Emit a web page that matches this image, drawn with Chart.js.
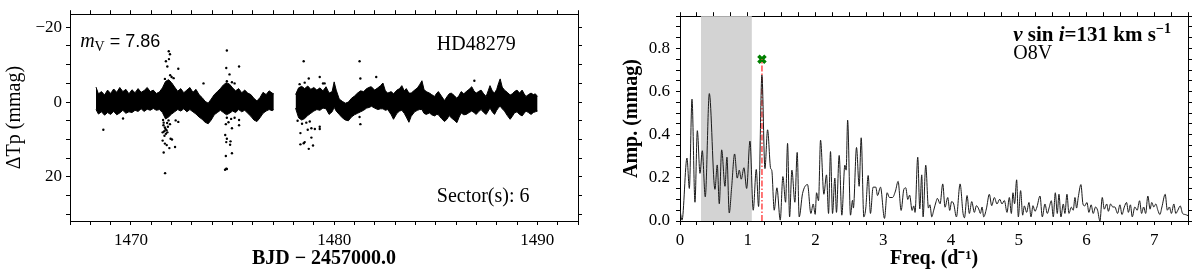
<!DOCTYPE html>
<html>
<head>
<meta charset="utf-8">
<script src="https://cdn.jsdelivr.net/npm/chart.js@4"></script>
<style>
  html, body { margin: 0; padding: 0; background: #fff; }
  #wrap { position: relative; width: 1200px; height: 276px; }
  .panel { position: absolute; top: 0; width: 600px; height: 276px; }
</style>
</head>
<body>
<div id="wrap">
  <div class="panel" style="left:0"><canvas id="lcChart"></canvas></div>
  <div class="panel" style="left:600px"><canvas id="ampChart"></canvas></div>
</div>
<script>
// Light curve: upper / lower edge of the dense band of points (mmag)
const lcTime = [
  1468.28, 1468.40, 1468.55, 1468.70, 1468.85, 1469.00, 1469.15, 1469.30, 1469.45, 1469.60,
  1469.75, 1469.90, 1470.05, 1470.20, 1470.35, 1470.50, 1470.65, 1470.80, 1470.95, 1471.10,
  1471.25, 1471.40, 1471.55, 1471.70, 1471.85, 1472.00, 1472.15, 1472.30, 1472.45, 1472.60,
  1472.75, 1472.90, 1473.05, 1473.20, 1473.35, 1473.50, 1473.65, 1473.80, 1473.95, 1474.10,
  1474.25, 1474.40, 1474.55, 1474.70, 1474.85, 1475.00, 1475.15, 1475.30, 1475.45, 1475.60,
  1475.75, 1475.90, 1476.05, 1476.20, 1476.35, 1476.50, 1476.65, 1476.80, 1476.95, 1477.03,
  1478.10, 1478.25, 1478.40, 1478.55, 1478.70, 1478.85, 1479.00, 1479.15, 1479.30, 1479.45,
  1479.60, 1479.75, 1479.90, 1480.00, 1480.10, 1480.25, 1480.40, 1480.55, 1480.70, 1480.85,
  1481.00, 1481.15, 1481.30, 1481.45, 1481.60,
  1481.75, 1481.83, 1481.99, 1482.15, 1482.28, 1482.40, 1482.52, 1482.64, 1482.81, 1482.92,
  1483.09, 1483.22, 1483.33, 1483.45, 1483.55, 1483.68, 1483.79, 1483.96, 1484.10, 1484.20,
  1484.32, 1484.42, 1484.53, 1484.69, 1484.80, 1484.94, 1485.05, 1485.13, 1485.28, 1485.43,
  1485.55, 1485.66, 1485.76, 1485.90, 1486.04, 1486.15, 1486.25, 1486.38, 1486.50, 1486.64,
  1486.77, 1486.88, 1486.99, 1487.10, 1487.23, 1487.36, 1487.48, 1487.58, 1487.67, 1487.78,
  1487.89, 1488.00, 1488.10, 1488.17, 1488.27, 1488.38, 1488.52, 1488.66, 1488.77, 1488.87,
  1489.00, 1489.12, 1489.25, 1489.35, 1489.44, 1489.56, 1489.69, 1489.80, 1489.90, 1490.01
];
const lcTop = [
  -4.0, -2.2, -2.8, -1.9, -3.2, -2.3, -3.5, -2.6, -3.9, -2.8,
  -3.4, -2.2, -3.3, -2.5, -3.6, -2.6, -3.1, -3.9, -2.8, -3.2,
  -2.3, -2.7, -3.8, -5.5, -6.0, -5.2, -4.0, -2.9, -3.6, -2.5,
  -3.2, -3.9, -2.6, -3.4, -2.0, -1.2, -0.2, 0.3, -0.8, -2.0,
  -2.8, -3.6, -4.6, -5.2, -4.8, -3.8, -3.0, -3.6, -2.5, -3.2,
  -2.4, -2.0, -1.0, -0.3, -1.2, -2.6, -2.0, -3.0, -2.4, -2.2,
  -2.0, -3.8, -4.2, -3.6, -4.3, -3.4, -3.9, -3.2, -3.8, -3.0,
  -4.1, -2.4, -2.8, -5.4, -3.2, -0.8, -0.2, 0.3, 0.0, -1.0,
  -1.6, -2.4, -3.0, -2.8, -3.6,
  -4.0, -4.1, -3.2, -3.8, -4.4, -5.1, -3.0, -2.4, -2.8, -2.2,
  -3.2, -3.6, -4.4, -3.0, -3.6, -2.4, -2.4, -3.2, -3.8, -4.6,
  -5.7, -3.4, -2.8, -2.4, -2.0, -1.5, -2.4, -2.8, -1.6, -0.4,
  -1.4, -2.2, -2.4, -1.8, -1.0, -1.8, -2.8, -2.2, -2.8, -3.4,
  -4.1, -3.0, -2.4, -2.8, -3.2, -2.2, -1.5, -3.0, -4.4, -3.0,
  -2.4, -3.4, -5.2, -6.2, -4.0, -3.2, -2.6, -1.9, -2.2, -2.8,
  -3.2, -2.4, -3.2, -2.2, -1.5, -2.0, -2.4, -2.0, -2.2, -1.5
];
const lcBottom = [
  2.0, 3.2, 2.6, 3.5, 2.8, 3.3, 2.5, 3.4, 2.9, 2.2,
  3.0, 2.6, 2.8, 2.2, 2.5, 1.8, 2.5, 1.9, 2.2, 1.7,
  2.2, 2.0, 2.8, 4.5, 4.0, 3.2, 2.6, 2.0, 2.4, 1.8,
  2.6, 2.0, 2.6, 3.2, 4.0, 4.6, 5.4, 5.8, 4.8, 3.4,
  2.8, 2.2, 2.8, 3.4, 3.0, 2.4, 2.8, 2.0, 2.6, 2.2,
  3.0, 3.8, 4.8, 5.2, 4.2, 3.0, 2.4, 2.0, 2.3, 2.0,
  1.6, 4.2, 4.8, 4.4, 3.6, 3.0, 2.4, 2.0, 2.2, 1.6,
  1.8, 3.3, 2.6, 1.4, 2.4, 3.3, 4.2, 4.8, 5.0, 4.0,
  3.4, 3.0, 2.6, 2.2, 1.6,
  1.4, 1.1, 1.6, 2.0, 1.8, 1.8, 2.2, 2.0, 3.4, 4.6,
  3.0, 2.4, 2.2, 3.0, 4.0, 5.4, 3.8, 2.6, 2.2, 2.0,
  2.0, 3.0, 3.3, 2.9, 3.4, 3.7, 3.3, 3.4, 4.4, 5.2,
  4.6, 3.6, 4.2, 4.8, 5.5, 4.0, 2.9, 3.4, 3.3, 2.8,
  2.4, 2.8, 3.3, 2.6, 2.0, 2.8, 3.3, 2.4, 1.6, 2.6,
  3.3, 2.2, 1.4, 1.1, 1.8, 2.4, 3.6, 4.6, 3.8, 2.9,
  2.6, 3.3, 3.7, 3.0, 2.4, 2.8, 3.3, 2.8, 2.6, 2.4
];

// scattered points away from the band
const outTime = [
  1468.64, 1469.61, 1471.86, 1471.92, 1471.87, 1471.72, 1471.79, 1472.33, 1471.93, 1472.00,
  1471.67, 1472.10, 1471.61, 1471.67, 1471.56, 1471.75, 1471.82, 1471.92, 1472.33, 1472.20,
  1471.56, 1471.67, 1471.89, 1472.17, 1471.61, 1471.68, 1471.76, 1471.95, 1472.02, 1471.70,
  1471.65, 1471.60, 1471.64, 1471.72, 1471.78, 1471.85, 1471.58, 1471.79, 1473.57, 1474.72,
  1474.69, 1475.32, 1474.85, 1474.72, 1474.97, 1475.10, 1474.72, 1474.80, 1474.93, 1475.10,
  1475.32, 1475.32, 1474.97, 1474.67, 1474.64, 1474.72, 1474.69, 1474.90, 1474.97, 1474.67,
  1474.69, 1474.72, 1474.63, 1474.88, 1478.50, 1478.75, 1479.29, 1479.45, 1479.53, 1478.55,
  1478.30, 1481.25, 1481.29, 1481.29, 1481.25, 1482.07, 1478.34, 1478.55, 1478.75, 1478.96,
  1478.34, 1478.50, 1478.88, 1478.88, 1479.29, 1479.29, 1479.05, 1478.63, 1478.42, 1478.70,
  1478.20, 1478.80, 1486.90
];
const outMag = [
  7.4, 4.4, -13.6, -12.8, -11.5, -10.9, -9.5, -8.9, -7.2, -6.7,
  -6.2, -6.4, 5.5, 6.8, 8.1, 7.5, 6.6, 5.9, 5.3, 4.9,
  10.3, 11.1, 12.3, 12.0, 13.5, 19.0, 11.5, 9.8, 10.0, 7.2,
  9.0, 6.2, 7.8, 8.5, 5.6, 4.9, 4.8, 8.1, -5.0, -13.8,
  -9.1, -9.5, -7.4, -5.6, -5.3, -5.0, 4.2, 5.4, 4.5, 4.2,
  4.8, 6.2, 7.0, 5.9, 8.8, 9.8, 10.7, 10.5, 13.7, 14.4,
  17.8, 17.9, 18.1, 11.4, -10.9, -6.3, -6.7, -5.0, -5.0, -5.2,
  -4.8, -10.9, -6.3, 5.9, 4.0, -6.7, 8.3, 10.7, 12.5, 11.6,
  11.3, 11.0, 9.5, 7.0, 6.6, 7.2, 7.2, 5.5, 5.8, 7.4,
  5.0, 5.2, -5.7
];

// Amplitude spectrum (turning points of the curve)
const freqs = [
  0.000, 0.030, 0.103, 0.138, 0.177, 0.221, 0.256, 0.295, 0.329, 0.373,
  0.433, 0.516, 0.550, 0.580, 0.615, 0.664, 0.693, 0.727, 0.762, 0.806,
  0.845, 0.875, 0.904, 0.944, 0.984, 1.033, 1.081, 1.126, 1.160, 1.209,
  1.254, 1.293, 1.338, 1.355, 1.391, 1.431, 1.480, 1.519, 1.559, 1.588,
  1.618, 1.652, 1.696, 1.730, 1.760, 1.809, 1.883, 1.932, 1.966, 1.996,
  2.016, 2.045, 2.075, 2.124, 2.163, 2.193, 2.222, 2.252, 2.286, 2.310,
  2.350, 2.389, 2.434, 2.453, 2.475, 2.517, 2.547, 2.560, 2.606, 2.645,
  2.675, 2.714, 2.743, 2.778, 2.812, 2.851, 2.891, 2.916, 2.960, 3.019,
  3.058, 3.092, 3.137, 3.181, 3.220, 3.265, 3.304, 3.333, 3.363, 3.390,
  3.427, 3.451, 3.470, 3.510, 3.540, 3.569, 3.589, 3.628, 3.668, 3.690,
  3.717, 3.746, 3.781, 3.800, 3.840, 3.879, 3.913, 3.953, 3.982, 4.010,
  4.041, 4.081, 4.135, 4.179, 4.200, 4.238, 4.272, 4.307, 4.346, 4.376,
  4.410, 4.435, 4.460, 4.484, 4.523, 4.567, 4.602, 4.641, 4.680, 4.720,
  4.754, 4.789, 4.828, 4.862, 4.892, 4.916, 4.940, 4.970, 4.995, 5.029,
  5.059, 5.084, 5.118, 5.152, 5.182, 5.211, 5.241, 5.270, 5.315, 5.349,
  5.388, 5.423, 5.452, 5.482, 5.511, 5.541, 5.570, 5.595, 5.624, 5.659,
  5.683, 5.713, 5.742, 5.777, 5.806, 5.831, 5.855, 5.880, 5.919, 5.949,
  5.975, 6.008, 6.037, 6.070, 6.101, 6.135, 6.165, 6.200, 6.234, 6.264,
  6.300, 6.325, 6.357, 6.390, 6.420, 6.460, 6.495, 6.525, 6.560, 6.593,
  6.620, 6.650, 6.677, 6.715, 6.750, 6.785, 6.815, 6.845, 6.875, 6.907,
  6.940, 6.965, 6.995, 7.025, 7.055, 7.085, 7.115, 7.163, 7.195, 7.225,
  7.255, 7.291, 7.320, 7.350, 7.385, 7.420, 7.460, 7.500
];
const amps = [
  0.052, 0.004, 0.292, 0.151, 0.565, 0.087, 0.419, 0.221, 0.326, 0.112,
  0.591, 0.147, 0.260, 0.080, 0.330, 0.161, 0.296, 0.037, 0.154, 0.311,
  0.199, 0.236, 0.194, 0.247, 0.151, 0.371, 0.050, 0.239, 0.067, 0.677,
  0.243, 0.423, 0.244, 0.235, 0.050, 0.154, 0.004, 0.206, 0.087, 0.360,
  0.019, 0.236, 0.087, 0.318, 0.019, 0.127, 0.169, 0.035, 0.079, 0.031,
  0.131, 0.094, 0.375, 0.124, 0.214, 0.035, 0.322, 0.035, 0.199, 0.040,
  0.304, 0.027, 0.259, 0.236, 0.468, 0.027, 0.096, 0.060, 0.341, 0.161,
  0.386, 0.019, 0.060, 0.211, 0.035, 0.157, 0.157, 0.118, 0.157, 0.012,
  0.131, 0.109, 0.109, 0.139, 0.184, 0.049, 0.146, 0.154, 0.100, 0.120,
  0.049, 0.070, 0.040, 0.296, 0.056, 0.214, 0.019, 0.259, 0.060, 0.075,
  0.019, 0.050, 0.090, 0.105, 0.080, 0.172, 0.064, 0.109, 0.049, 0.090,
  0.079, 0.019, 0.172, 0.035, 0.015, 0.118, 0.035, 0.090, 0.040, 0.071,
  0.056, 0.035, 0.065, 0.019, 0.056, 0.124, 0.071, 0.109, 0.079, 0.101,
  0.079, 0.095, 0.040, 0.109, 0.035, 0.131, 0.080, 0.191, 0.019, 0.141,
  0.027, 0.070, 0.040, 0.086, 0.019, 0.071, 0.045, 0.065, 0.116, 0.019,
  0.079, 0.035, 0.064, 0.094, 0.019, 0.131, 0.035, 0.124, 0.019, 0.079,
  0.035, 0.124, 0.035, 0.064, 0.050, 0.109, 0.060, 0.110, 0.169, 0.079,
  0.070, 0.086, 0.040, 0.075, 0.035, 0.065, 0.050, 0.000, 0.109, 0.055,
  0.079, 0.045, 0.079, 0.065, 0.065, 0.035, 0.075, 0.030, 0.065, 0.086,
  0.040, 0.075, 0.019, 0.065, 0.050, 0.094, 0.035, 0.065, 0.035, 0.116,
  0.055, 0.086, 0.065, 0.079, 0.050, 0.030, 0.065, 0.124, 0.050, 0.065,
  0.035, 0.079, 0.035, 0.050, 0.070, 0.035, 0.030, 0.025
];

const peakFreq = 1.21;      // marked frequency
const markerAmp = 0.75;     // height of the green cross
const shadeFrom = 0.31;     // grey band in the spectrum
const shadeTo = 1.06;

const lcXLabels = [1470, 1480, 1490];
const lcYLabels = [-20, 0, 20];
const ampXLabels = [0, 1, 2, 3, 4, 5, 6, 7];
const ampYLabels = [0, 0.2, 0.4, 0.6, 0.8];

const SERIF = 'Liberation Serif';
Chart.defaults.font.family = SERIF;
Chart.defaults.color = '#000';

function stepList(from, to, step) {
  const out = [];
  for (let i = 0; from + i * step <= to + 1e-9; i++) out.push(Math.round((from + i * step) * 1000) / 1000);
  return out;
}

function axis(o) {
  return {
    type: 'linear',
    display: true,
    position: o.position,
    min: o.min,
    max: o.max,
    reverse: !!o.reverse,
    border: { display: true, color: '#000', width: 1 },
    grid: { display: true, drawOnChartArea: false, drawTicks: true, tickLength: 4, tickWidth: 1, tickColor: '#000' },
    ticks: {
      display: !!o.label,
      autoSkip: false,
      maxRotation: 0,
      padding: o.pad || 4,
      color: '#000',
      font: { family: SERIF, size: 17 },
      callback: o.label || (() => '')
    },
    title: o.title || { display: false },
    afterBuildTicks: s => { s.ticks = o.ticks.map(v => ({ value: v })); },
    afterFit: s => { if (s.isHorizontal()) s.height = o.size; else s.width = o.size; }
  };
}

function textPlugin(items) {
  return {
    id: 'panelText',
    afterDraw(chart) {
      const { ctx, chartArea: a } = chart;
      ctx.save();
      ctx.fillStyle = '#000';
      ctx.textBaseline = 'alphabetic';
      items.forEach(item => {
        let x = a.left + item.fx * (a.right - a.left);
        const y = a.top + item.fy * (a.bottom - a.top);
        item.parts.forEach(p => {
          ctx.font = p.font;
          ctx.fillText(p.text, x, y + (p.dy || 0));
          x += ctx.measureText(p.text).width;
        });
      });
      ctx.restore();
    }
  };
}

const near = (v, list) => list.some(l => Math.abs(l - v) < 1e-6);

// ---------- left panel: light curve ----------
const bandSets = [];
let seg = [];
lcTime.forEach((t, i) => {
  if (seg.length && t - lcTime[i - 1] > 0.5) { bandSets.push(seg); seg = []; }
  seg.push(i);
});
bandSets.push(seg);

const lcDatasets = [];
bandSets.forEach(idx => {
  lcDatasets.push({
    data: idx.map(i => ({ x: lcTime[i], y: lcTop[i] })),
    borderColor: '#000', borderWidth: 1, pointRadius: 0, fill: false, tension: 0
  });
  lcDatasets.push({
    data: idx.map(i => ({ x: lcTime[i], y: lcBottom[i] })),
    borderColor: '#000', borderWidth: 1, pointRadius: 0, fill: '-1',
    backgroundColor: '#000', tension: 0
  });
});
lcDatasets.push({
  data: outTime.map((t, i) => ({ x: t, y: outMag[i] })),
  showLine: false, pointRadius: 1.2, pointBorderWidth: 0,
  pointBackgroundColor: '#000', fill: false
});

new Chart(document.getElementById('lcChart'), {
  type: 'line',
  data: { datasets: lcDatasets },
  options: {
    responsive: true, maintainAspectRatio: false, animation: false, devicePixelRatio: 1,
    layout: { padding: 0 },
    plugins: { legend: { display: false }, tooltip: { enabled: false } },
    scales: {
      x: axis({
        position: 'bottom', min: 1467, max: 1492, size: 55, pad: 5,
        ticks: stepList(1467, 1492, 1),
        label: v => near(v, lcXLabels) ? String(v) : '',
        title: { display: true, text: 'BJD − 2457000.0', font: { family: SERIF, size: 20, weight: 'bold' }, color: '#000', padding: { top: 0, bottom: 5 } }
      }),
      x2: axis({ position: 'top', min: 1467, max: 1492, size: 9, ticks: stepList(1467, 1492, 1) }),
      y: axis({
        position: 'left', min: -23.5, max: 31.8, reverse: true, size: 70, pad: 4,
        ticks: stepList(-20, 30, 5),
        label: v => near(v, lcYLabels) ? (v < 0 ? '−' : '') + Math.abs(v) : '',
        title: { display: true, text: 'ΔTp (mmag)', font: { family: SERIF, size: 20 }, color: '#000', padding: { top: 3, bottom: 0 } }
      }),
      y2: axis({ position: 'right', min: -23.5, max: 31.8, reverse: true, size: 22, ticks: stepList(-20, 30, 5) })
    }
  },
  plugins: [textPlugin([
    { fx: 0.02, fy: 0.16, parts: [
      { text: 'm', font: 'italic 20px ' + SERIF },
      { text: 'V', font: '14px ' + SERIF, dy: 4 },
      { text: ' = 7.86', font: '18px Liberation Sans' }
    ] },
    { fx: 0.722, fy: 0.175, parts: [{ text: 'HD48279', font: '20px ' + SERIF }] },
    { fx: 0.722, fy: 0.906, parts: [{ text: 'Sector(s): 6', font: '20px ' + SERIF }] }
  ])]
});

// ---------- right panel: amplitude spectrum ----------
const shadePlugin = {
  id: 'shade',
  beforeDatasetsDraw(chart) {
    const { ctx, chartArea: a, scales } = chart;
    const x0 = scales.x.getPixelForValue(shadeFrom);
    const x1 = scales.x.getPixelForValue(shadeTo);
    ctx.save();
    ctx.fillStyle = '#d3d3d3';
    ctx.fillRect(x0, a.top, x1 - x0, a.bottom - a.top);
    ctx.restore();
  }
};

new Chart(document.getElementById('ampChart'), {
  type: 'line',
  data: {
    datasets: [
      {
        data: freqs.map((f, i) => ({ x: f, y: amps[i] })),
        borderColor: '#1a1a1a', borderWidth: 1, pointRadius: 0,
        cubicInterpolationMode: 'monotone', fill: false
      },
      {
        data: [{ x: peakFreq, y: 0 }, { x: peakFreq, y: markerAmp }],
        borderColor: '#ff4a4a', borderWidth: 1.5, borderDash: [6, 2, 1.5, 2],
        pointRadius: 0, fill: false
      },
      {
        data: [{ x: peakFreq, y: markerAmp }],
        showLine: false, pointStyle: 'crossRot', pointRadius: 5,
        pointBorderColor: '#008000', pointBorderWidth: 3.5, fill: false
      }
    ]
  },
  options: {
    responsive: true, maintainAspectRatio: false, animation: false, devicePixelRatio: 1,
    layout: { padding: 0 },
    plugins: { legend: { display: false }, tooltip: { enabled: false } },
    scales: {
      x: axis({
        position: 'bottom', min: 0, max: 7.5, size: 55, pad: 5,
        ticks: stepList(0, 7.5, 0.25),
        label: v => near(v, ampXLabels) ? String(Math.round(v)) : '',
        title: { display: true, text: 'Freq. (d⁻¹)', font: { family: SERIF, size: 20, weight: 'bold' }, color: '#000', padding: { top: 0, bottom: 5 } }
      }),
      x2: axis({ position: 'top', min: 0, max: 7.5, size: 9, ticks: stepList(0, 7.5, 0.25) }),
      y: axis({
        position: 'left', min: 0, max: 0.95, size: 80, pad: 6,
        ticks: stepList(0, 0.95, 0.05),
        label: v => near(v, ampYLabels) ? v.toFixed(1) : '',
        title: { display: true, text: 'Amp. (mmag)', font: { family: SERIF, size: 20, weight: 'bold' }, color: '#000', padding: { top: 20, bottom: 0 } }
      }),
      y2: axis({ position: 'right', min: 0, max: 0.95, size: 12, ticks: stepList(0, 0.95, 0.05) })
    }
  },
  plugins: [shadePlugin, textPlugin([
    { fx: 0.656, fy: 0.123, parts: [
      { text: 'v', font: 'italic bold 21px ' + SERIF },
      { text: ' sin ', font: 'bold 21px ' + SERIF },
      { text: 'i', font: 'italic bold 21px ' + SERIF },
      { text: '=131 km s', font: 'bold 21px ' + SERIF },
      { text: '−1', font: 'bold 14px ' + SERIF, dy: -8 }
    ] },
    { fx: 0.656, fy: 0.208, parts: [{ text: 'O8V', font: '20px ' + SERIF }] }
  ])]
});
</script>
</body>
</html>
